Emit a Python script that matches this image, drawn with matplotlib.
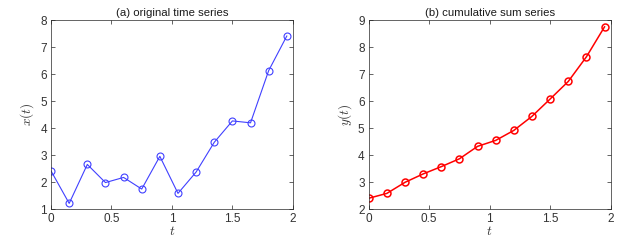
import matplotlib.pyplot as plt

t = [0, 0.15, 0.3, 0.45, 0.6, 0.75, 0.9, 1.05, 1.2, 1.35, 1.5, 1.65, 1.8, 1.95]
x_vals = [2.42, 1.22, 2.66, 1.99, 2.18, 1.75, 2.96, 1.59, 2.38, 3.48, 4.27, 4.20, 6.13, 7.41]
y_vals = [2.41, 2.59, 3.00, 3.31, 3.58, 3.87, 4.33, 4.55, 4.92, 5.44, 6.08, 6.73, 7.64, 8.75]

plt.rcParams['font.family'] = ['Liberation Sans', 'DejaVu Sans']
plt.rcParams['mathtext.fontset'] = 'cm'

axis_color = '#262626'

fig = plt.figure(figsize=(6.38, 2.42), dpi=100)
ax1 = fig.add_axes([0.080, 0.135, 0.379, 0.782])
ax2 = fig.add_axes([0.578, 0.135, 0.379, 0.782])

ax1.plot(t, x_vals, color='#4040ff', lw=0.8, marker='o', ms=5, mfc='none', mew=0.8)
ax1.set_ylim(1, 8)
ax1.set_yticks(range(1, 9))
ax1.set_title('(a) original time series', fontsize=8.2, pad=3, color='#1a1a1a')
ax1.set_ylabel('$x(t)$', fontsize=9.5, labelpad=3, color='#333333')

ax2.plot(t, y_vals, color='#ff0000', lw=1.1, marker='o', ms=5, mfc='none', mew=1.1)
ax2.set_ylim(2, 9)
ax2.set_yticks(range(2, 10))
ax2.set_title('(b) cumulative sum series', fontsize=8.2, pad=3, color='#1a1a1a')
ax2.set_ylabel('$y(t)$', fontsize=9.5, labelpad=3, color='#333333')

for ax in (ax1, ax2):
    ax.set_xlim(0, 2)
    ax.set_xticks([0, 0.5, 1, 1.5, 2])
    ax.set_xticklabels(['0', '0.5', '1', '1.5', '2'])
    ax.set_xlabel('$t$', fontsize=9.5, labelpad=0, color='#333333')
    ax.tick_params(direction='in', length=3, width=0.5, labelsize=8.5,
                   colors=axis_color, labelcolor='#333333', top=True, right=True, pad=3)
    for s in ax.spines.values():
        s.set_color(axis_color)
        s.set_linewidth(0.5)

fig.savefig('out.png', dpi=100)
